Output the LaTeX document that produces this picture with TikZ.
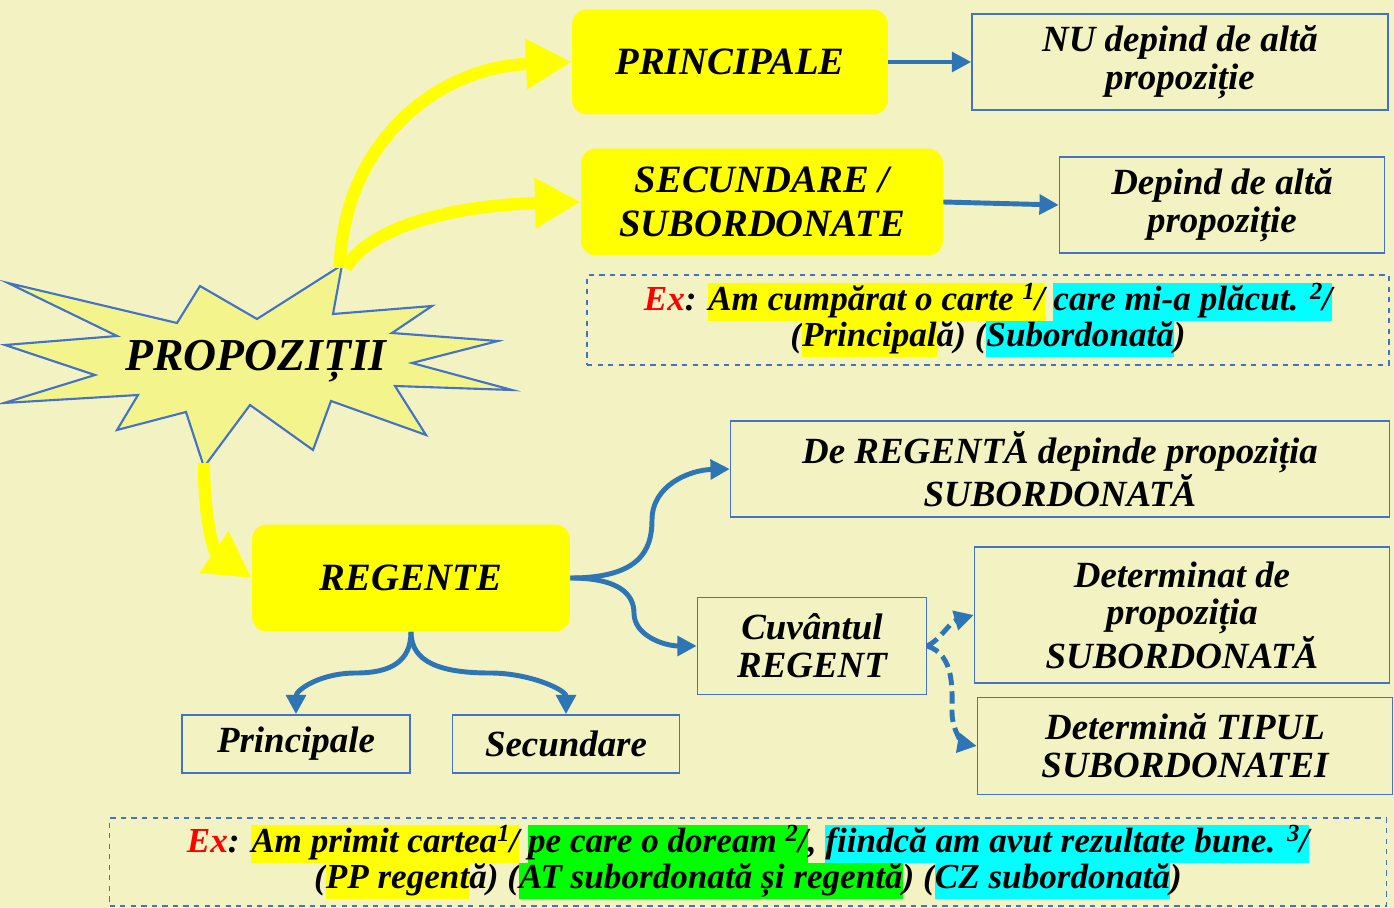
\documentclass[tikz,border=0pt]{standalone}
\usepackage{fontspec}
\setmainfont{Liberation Serif}
\usepackage{xcolor}
\usetikzlibrary{arrows.meta, positioning}

\definecolor{bgcol}{RGB}{242,242,194}
\definecolor{burstfill}{RGB}{244,244,140}
\definecolor{linkblue}{RGB}{46,117,182}
\definecolor{edgeblue}{RGB}{68,114,196}
\definecolor{hlyellow}{RGB}{255,255,0}
\definecolor{hlgreen}{RGB}{0,255,0}
\definecolor{hlcyan}{RGB}{0,255,255}
\definecolor{exred}{RGB}{255,0,0}

% highlight macros for the examples
\newcommand{\hly}[1]{{\setlength{\fboxsep}{0pt}\colorbox{hlyellow}{\strut #1}}}
\newcommand{\hlc}[1]{{\setlength{\fboxsep}{0pt}\colorbox{hlcyan}{\strut #1}}}
\newcommand{\hlg}[1]{{\setlength{\fboxsep}{0pt}\colorbox{hlgreen}{\strut #1}}}
\newcommand{\supnum}[1]{\raisebox{0.32em}{\fontsize{14}{14}\selectfont #1}}

\begin{document}
\begin{tikzpicture}[x=0.02cm, y=-0.02cm, every node/.style={align=center},
    yellowbox/.style={rectangle, rounded corners=0.3cm, fill=hlyellow, inner sep=0pt, font=\fontsize{22}{25}\selectfont\bfseries\itshape},
    textbox/.style={rectangle, draw=edgeblue, line width=0.9pt, inner sep=0pt, font=\fontsize{21}{21.5}\selectfont\bfseries\itshape},
    exbox/.style={rectangle, draw=edgeblue, dashed, line width=0.8pt, inner sep=0pt, font=\fontsize{20}{20.5}\selectfont\bfseries\itshape},
    burst/.style={draw=edgeblue, fill=burstfill, line width=1.2pt, line join=miter},
    link/.style={linkblue, line width=2.8pt, -{Triangle[length=11pt, width=11pt]}},
    dlink/.style={link, dash pattern=on 7pt off 3.5pt},
    yarrow/.style={hlyellow, line width=7pt, -{Triangle[length=26pt, width=27pt]}}]
    \fill[bgcol] (0,0) rectangle (1394,908);
    \useasboundingbox (0,0) rectangle (1394,908);

    % starburst
    \draw[burst] (8,283) -- (177,323) -- (200,286) -- (257,319) -- (342,265) -- (333,314)
        -- (432,306) -- (392,333) -- (498,341) -- (412,363) -- (512,390) -- (395,386)
        -- (426,435) -- (331,401) -- (313,450) -- (250,405) -- (204,467) -- (186,412)
        -- (117,430) -- (138,395) -- (4,403) -- (95,375) -- (5,345) -- (117,336) -- cycle;
    \node[font=\fontsize{26}{26}\selectfont\bfseries\itshape] (prop) at (256,361) {PROPOZIȚII};
    \coordinate (topA) at (340,268);
    \coordinate (topB) at (346,268);
    \coordinate (bot) at (204,463);

    % boxes
    \node[yellowbox, minimum width=6.32cm, minimum height=2.1cm] (pri) at (730,62) {PRINCIPALE};
    \node[yellowbox, minimum width=7.24cm, minimum height=2.14cm] (sec) at (762,202) {SECUNDARE /\\SUBORDONATE};
    \node[yellowbox, minimum width=6.36cm, minimum height=2.14cm] (reg) at (411,578) {REGENTE};
    \node[textbox, minimum width=8.32cm, minimum height=1.92cm] (nudep) at (1180,62) {NU depind de altă\\propoziție};
    \node[textbox, minimum width=6.5cm, minimum height=1.92cm] (dep) at (1222,205) {Depind de altă\\propoziție};
    \node[exbox, minimum width=16.04cm, minimum height=1.8cm] (exone) at (988,320)
        {{\color{exred}Ex}: \hly{Am cumpărat o carte \supnum{1}/} \hlc{care mi-a plăcut. \supnum{2}/}\\(\hly{Principal}ă) (\hlc{Subordonată})};
    \node[textbox, minimum width=13.18cm, minimum height=1.92cm] (regdep) at (1060,469) {De REGENTĂ depinde propoziția\\SUBORDONATĂ};
    \node[textbox, minimum width=4.58cm, minimum height=1.94cm] (cuv) at (812,646) {Cuvântul\\REGENT};
    \node[textbox, minimum width=8.3cm, minimum height=2.72cm] (detde) at (1182,615) {Determinat de\\propoziția\\SUBORDONATĂ};
    \node[textbox, minimum width=8.3cm, minimum height=1.94cm] (dettip) at (1185,746) {Determină TIPUL\\SUBORDONATEI};
    \node[textbox, minimum width=4.56cm, minimum height=1.16cm] (princ) at (296,744) {Principale};
    \node[textbox, minimum width=4.54cm, minimum height=1.16cm] (secund) at (566,744) {Secundare};
    \node[exbox, minimum width=25.54cm, minimum height=1.76cm] (extwo) at (748,862)
        {{\color{exred}Ex}: \hly{Am primit cartea\supnum{1}/} \hlg{pe care o doream \supnum{2}/}, \hlc{fiindcă am avut rezultate bune. \supnum{3}/}\\(\hly{PP regent}ă) (\hlg{AT subordonată și regentă}) (\hlc{CZ subordonată})};

    % yellow arrows
    \draw[yarrow] (topA) .. controls (342,150) and (430,68) .. (pri.west);
    \draw[yarrow] (topB) .. controls (370,225) and (460,205) .. (sec.west);
    \draw[yarrow] (bot) .. controls (204,520) and (214,552) .. (reg.west);

    % blue arrows
    \draw[link] (pri.east) -- (nudep.west);
    \draw[link] (sec.east) -- (dep.west);
    \draw[link] (reg.east) .. controls (640,578) and (652,550) .. (652,520)
        .. controls (652,485) and (690,470) .. (regdep.west);
    \draw[link] (reg.east) .. controls (620,578) and (634,595) .. (634,613)
        .. controls (634,636) and (665,646) .. (cuv.west);
    \draw[link] (reg.south) .. controls (411,662) and (390,673) .. (356,673)
        .. controls (320,673) and (296,690) .. (princ.north);
    \draw[link] (reg.south) .. controls (411,662) and (440,673) .. (490,673)
        .. controls (530,673) and (566,690) .. (secund.north);
    \draw[dlink] (cuv.east) .. controls (940,640) and (950,622) .. (detde.west);
    \draw[dlink] (cuv.east) .. controls (955,655) and (952,690) .. (952,712)
        .. controls (952,732) and (965,744) .. (dettip.west);
\end{tikzpicture}
\end{document}
